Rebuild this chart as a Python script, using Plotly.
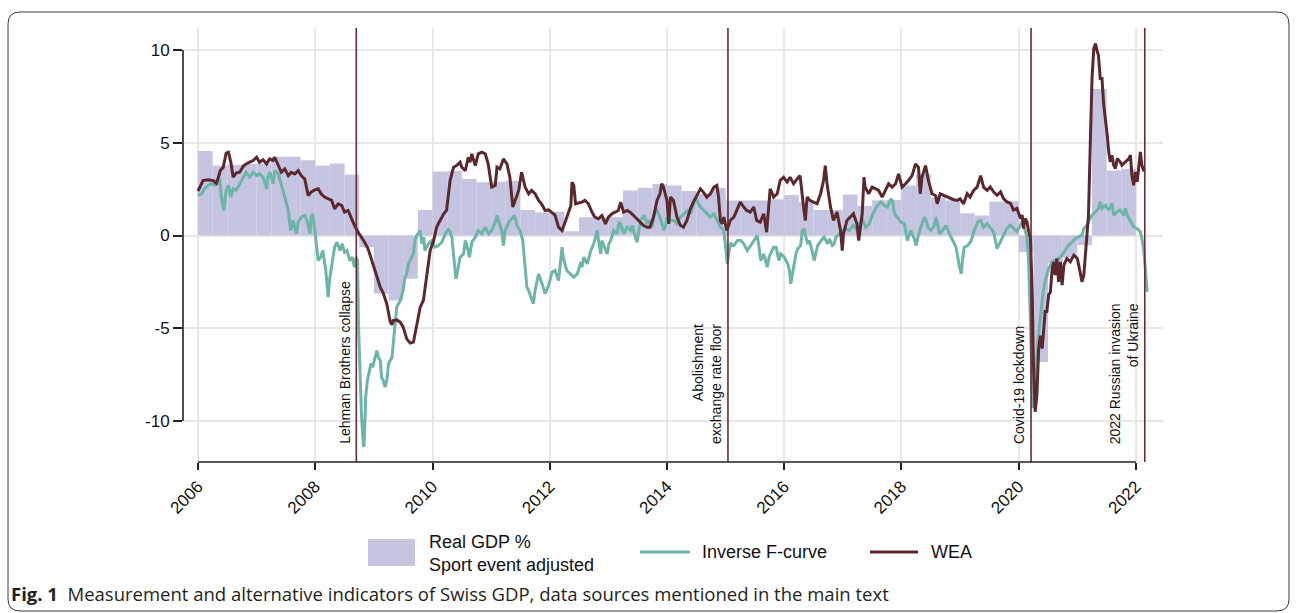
import plotly.graph_objects as go

# ---- Real GDP growth, sport-event adjusted (quarterly, % y/y) ----
gdp_years = list(range(2006, 2022))
gdp_values = [
    4.55, 3.78, 3.82, 3.85,   # 2006
    3.88, 4.25, 4.25, 4.05,   # 2007
    3.78, 3.88, 3.28, -0.63,  # 2008
    -3.14, -3.50, -2.33, 1.38,  # 2009
    3.45, 3.48, 3.05, 2.87,   # 2010
    2.90, 2.95, 1.38, 1.25,   # 2011
    1.28, 0.23, 0.99, 0.99,   # 2012
    0.99, 2.43, 2.57, 2.78,   # 2013
    2.70, 2.40, 2.25, 2.57,   # 2014
    1.89, 1.89, 1.89, 1.95,   # 2015
    2.18, 1.80, 1.38, 1.38,   # 2016
    2.21, 1.60, 1.90, 1.92,   # 2017
    2.70, 3.32, 2.05, 1.89,   # 2018
    1.20, 1.08, 1.83, 1.85,   # 2019
    -0.90, -6.82, -1.50, -1.20,  # 2020
    -0.52, 7.90, 3.50, 3.60,  # 2021
]
gdp_quarter_start = [y + q / 4 for y in gdp_years for q in range(4)]

# ---- Weekly economic activity index (WEA) ----
wea_t = [
    2006.00, 2006.085, 2006.17, 2006.26, 2006.31, 2006.34, 2006.38, 2006.43, 2006.48, 2006.52,
    2006.56, 2006.60, 2006.65, 2006.71, 2006.77, 2006.82, 2006.88, 2006.94, 2007.00, 2007.05,
    2007.11, 2007.17, 2007.22, 2007.28, 2007.31, 2007.37, 2007.42, 2007.48, 2007.54, 2007.59,
    2007.65, 2007.71, 2007.76, 2007.82, 2007.88, 2007.93, 2007.99, 2008.05, 2008.10, 2008.16,
    2008.22, 2008.28, 2008.33, 2008.39, 2008.45, 2008.50, 2008.56, 2008.62, 2008.67, 2008.73,
    2008.79, 2008.84, 2008.90, 2008.96, 2009.02, 2009.07, 2009.11, 2009.16, 2009.22, 2009.28,
    2009.31, 2009.33, 2009.39, 2009.45, 2009.50, 2009.56, 2009.62, 2009.675, 2009.73, 2009.79,
    2009.845, 2009.90, 2009.96, 2010.02, 2010.07, 2010.13, 2010.19, 2010.24, 2010.30, 2010.36,
    2010.41, 2010.47, 2010.50, 2010.56, 2010.61, 2010.64, 2010.67, 2010.73, 2010.78, 2010.84,
    2010.90, 2010.95, 2011.01, 2011.07, 2011.10, 2011.15, 2011.21, 2011.27, 2011.32, 2011.37,
    2011.41, 2011.47, 2011.52, 2011.58, 2011.64, 2011.69, 2011.75, 2011.81, 2011.86, 2011.92,
    2011.98, 2012.03, 2012.09, 2012.15, 2012.21, 2012.26, 2012.32, 2012.36, 2012.38, 2012.41,
    2012.44, 2012.49, 2012.55, 2012.60, 2012.66, 2012.72, 2012.77, 2012.83, 2012.89, 2012.95,
    2013.00, 2013.06, 2013.12, 2013.17, 2013.21, 2013.26, 2013.32, 2013.37, 2013.43, 2013.49,
    2013.54, 2013.60, 2013.66, 2013.71, 2013.77, 2013.83, 2013.88, 2013.91, 2013.94, 2014.00,
    2014.03, 2014.06, 2014.11, 2014.17, 2014.23, 2014.28, 2014.34, 2014.40, 2014.45, 2014.51,
    2014.57, 2014.62, 2014.68, 2014.74, 2014.80, 2014.85, 2014.88, 2014.91, 2014.94, 2014.97,
    2015.02, 2015.08, 2015.14, 2015.19, 2015.25, 2015.31, 2015.36, 2015.42, 2015.48, 2015.53,
    2015.59, 2015.65, 2015.70, 2015.76, 2015.82, 2015.88, 2015.93, 2015.99, 2016.05, 2016.10,
    2016.16, 2016.22, 2016.27, 2016.33, 2016.36, 2016.39, 2016.44, 2016.50, 2016.56, 2016.62,
    2016.67, 2016.70, 2016.73, 2016.79, 2016.84, 2016.90, 2016.96, 2016.99, 2017.01, 2017.07,
    2017.13, 2017.18, 2017.24, 2017.27, 2017.33, 2017.36, 2017.38, 2017.44, 2017.50, 2017.55,
    2017.61, 2017.67, 2017.73, 2017.78, 2017.84, 2017.90, 2017.95, 2018.01, 2018.07, 2018.12,
    2018.18, 2018.24, 2018.29, 2018.32, 2018.35, 2018.41, 2018.46, 2018.52, 2018.58, 2018.61,
    2018.66, 2018.72, 2018.78, 2018.84, 2018.89, 2018.95, 2019.00, 2019.06, 2019.12, 2019.17,
    2019.23, 2019.29, 2019.35, 2019.40, 2019.46, 2019.515, 2019.57, 2019.63, 2019.69, 2019.74,
    2019.80, 2019.86, 2019.91, 2019.97, 2020.03, 2020.06, 2020.08, 2020.11, 2020.14, 2020.17,
    2020.20, 2020.23, 2020.25, 2020.28, 2020.31, 2020.34, 2020.37, 2020.40, 2020.43, 2020.45,
    2020.48, 2020.51, 2020.54, 2020.57, 2020.60, 2020.62, 2020.65, 2020.68, 2020.71, 2020.74,
    2020.77, 2020.80, 2020.82, 2020.88, 2020.94, 2021.00, 2021.02, 2021.05, 2021.08, 2021.11,
    2021.14, 2021.17, 2021.19, 2021.22, 2021.25, 2021.28, 2021.31, 2021.34, 2021.36, 2021.39,
    2021.42, 2021.45, 2021.48, 2021.51, 2021.535, 2021.56, 2021.59, 2021.62, 2021.65, 2021.68,
    2021.705, 2021.73, 2021.76, 2021.79, 2021.85, 2021.88, 2021.905, 2021.93, 2021.96, 2021.99,
    2022.02, 2022.05, 2022.075, 2022.10, 2022.13, 2022.16,
]
wea_v = [
    2.39, 2.96, 3.00, 2.96, 2.82, 3.05, 3.50, 3.68, 4.44, 4.49,
    3.95, 3.14, 3.36, 3.41, 3.72, 3.86, 3.95, 4.04, 4.22, 3.95,
    4.08, 3.86, 4.13, 4.04, 4.22, 3.77, 3.41, 3.59, 3.23, 3.41,
    3.32, 3.50, 3.23, 3.05, 2.16, 2.34, 2.46, 2.52, 2.25, 2.07,
    1.98, 1.89, 1.44, 1.71, 1.62, 1.26, 1.35, 0.90, 0.54, 0.18,
    -0.09, -0.35, -0.70, -1.30, -2.00, -2.50, -2.80, -3.10, -3.68, -4.67,
    -4.80, -4.58, -4.55, -4.67, -4.94, -5.57, -5.80, -5.75, -4.76, -3.86,
    -3.50, -2.07, -0.81, -0.27, 0.45, 0.81, 1.17, 1.35, 2.96, 3.68,
    3.77, 3.95, 3.68, 3.50, 4.22, 3.95, 4.40, 3.77, 4.40, 4.49,
    4.40, 3.86, 2.61, 2.70, 3.68, 3.59, 4.13, 3.86, 3.14, 1.53,
    1.89, 2.43, 3.41, 2.61, 2.25, 2.43, 2.25, 1.89, 1.71, 1.35,
    1.38, 1.26, 1.10, 0.45, 0.27, 0.70, 1.20, 1.60, 2.88, 2.70,
    1.71, 1.75, 1.80, 1.89, 1.71, 1.26, 0.99, 0.90, 1.08, 0.63,
    0.99, 1.17, 1.26, 1.35, 1.80, 1.26, 1.35, 1.26, 1.08, 0.90,
    0.72, 0.54, 0.45, 0.45, 0.99, 1.89, 2.25, 2.79, 2.61, 1.89,
    0.63, 2.07, 1.89, 0.99, 0.54, 0.45, 0.81, 1.44, 1.80, 2.16,
    2.52, 2.34, 2.07, 2.25, 2.61, 2.70, 2.07, 0.81, 0.63, 0.99,
    0.27, 0.81, 0.99, 1.35, 1.80, 1.53, 1.35, 1.26, 1.53, 0.81,
    0.72, 1.17, 0.18, 2.52, 2.07, 2.25, 2.96, 3.14, 2.88, 3.14,
    2.79, 3.05, 3.23, 1.53, 0.81, 2.07, 1.89, 1.80, 1.71, 2.25,
    2.96, 3.77, 2.79, 1.53, 0.81, 1.26, 0.27, -0.81, 0.09, 0.81,
    0.99, 1.17, 0.63, -0.27, 1.17, 3.14, 2.61, 2.25, 2.61, 2.52,
    2.43, 2.07, 2.43, 2.79, 2.61, 2.79, 3.32, 2.61, 2.79, 2.96,
    3.23, 3.86, 3.68, 2.25, 3.14, 3.77, 2.96, 2.25, 2.16, 1.71,
    2.25, 2.16, 2.07, 1.98, 1.93, 1.89, 1.98, 1.71, 2.25, 2.07,
    2.43, 2.61, 3.23, 2.61, 2.43, 2.62, 2.35, 2.17, 2.35, 1.99,
    1.81, 1.73, 1.37, 1.46, 0.92, 1.10, 0.38, 0.92, 0.74, 0.20,
    -0.16, -3.20, -6.80, -9.50, -8.60, -6.10, -5.40, -6.10, -5.00, -4.10,
    -4.10, -3.20, -3.05, -1.78, -1.42, -2.14, -1.24, -2.50, -1.42, -2.68,
    -1.60, -1.42, -1.24, -1.42, -1.06, -1.24, -1.60, -2.14, -2.50, -2.14,
    -1.06, 0.38, 1.10, 4.87, 8.46, 10.08, 10.35, 9.90, 9.72, 8.46,
    8.46, 7.03, 6.31, 5.41, 4.51, 3.97, 4.33, 3.79, 3.61, 4.15,
    4.06, 3.97, 3.79, 3.88, 4.06, 4.15, 4.33, 3.25, 2.71, 3.43,
    2.89, 3.97, 4.51, 3.79, 3.52, 3.52,
]

# ---- Inverse F-curve ----
fcurve_t = [
    2006.00, 2006.06, 2006.11, 2006.17, 2006.23, 2006.28, 2006.34, 2006.37, 2006.40, 2006.44,
    2006.48, 2006.52, 2006.56, 2006.60, 2006.65, 2006.71, 2006.77, 2006.82, 2006.88, 2006.94,
    2007.00, 2007.05, 2007.11, 2007.17, 2007.19, 2007.23, 2007.28, 2007.31, 2007.37, 2007.42,
    2007.48, 2007.54, 2007.58, 2007.62, 2007.68, 2007.71, 2007.76, 2007.82, 2007.86, 2007.91,
    2007.93, 2007.96, 2008.01, 2008.05, 2008.09, 2008.13, 2008.18, 2008.22, 2008.25, 2008.29,
    2008.33, 2008.37, 2008.42, 2008.46, 2008.50, 2008.54, 2008.59, 2008.63, 2008.67, 2008.70,
    2008.72, 2008.74, 2008.76, 2008.79, 2008.82, 2008.83, 2008.85, 2008.86, 2008.89, 2008.92,
    2008.95, 2008.98, 2009.02, 2009.05, 2009.08, 2009.11, 2009.13, 2009.16, 2009.19, 2009.22,
    2009.25, 2009.31, 2009.33, 2009.36, 2009.39, 2009.45, 2009.50, 2009.53, 2009.56, 2009.59,
    2009.65, 2009.675, 2009.70, 2009.73, 2009.79, 2009.82, 2009.85, 2009.87, 2009.93, 2009.99,
    2010.04, 2010.10, 2010.16, 2010.22, 2010.27, 2010.30, 2010.33, 2010.37, 2010.40, 2010.44,
    2010.47, 2010.53, 2010.56, 2010.60, 2010.63, 2010.67, 2010.73, 2010.78, 2010.84, 2010.90,
    2010.96, 2011.01, 2011.07, 2011.10, 2011.13, 2011.18, 2011.21, 2011.24, 2011.30, 2011.35,
    2011.40, 2011.44, 2011.495, 2011.54, 2011.58, 2011.61, 2011.64, 2011.68, 2011.72, 2011.75,
    2011.81, 2011.87, 2011.92, 2011.98, 2012.04, 2012.09, 2012.15, 2012.21, 2012.23, 2012.29,
    2012.35, 2012.41, 2012.47, 2012.53, 2012.55, 2012.58, 2012.64, 2012.70, 2012.75, 2012.78,
    2012.81, 2012.84, 2012.87, 2012.89, 2012.92, 2012.98, 2013.01, 2013.04, 2013.09, 2013.15,
    2013.18, 2013.21, 2013.26, 2013.32, 2013.38, 2013.41, 2013.46, 2013.49, 2013.52, 2013.55,
    2013.61, 2013.66, 2013.69, 2013.75, 2013.78, 2013.83, 2013.89, 2013.95, 2013.98, 2014.00,
    2014.06, 2014.12, 2014.17, 2014.23, 2014.29, 2014.35, 2014.40, 2014.46, 2014.49, 2014.52,
    2014.57, 2014.63, 2014.69, 2014.74, 2014.80, 2014.86, 2014.91, 2014.97, 2015.03, 2015.06,
    2015.09, 2015.14, 2015.20, 2015.26, 2015.31, 2015.37, 2015.43, 2015.48, 2015.54, 2015.57,
    2015.60, 2015.65, 2015.71, 2015.74, 2015.82, 2015.86, 2015.89, 2015.91, 2015.94, 2016.00,
    2016.06, 2016.09, 2016.11, 2016.14, 2016.17, 2016.20, 2016.23, 2016.28, 2016.31, 2016.34,
    2016.37, 2016.40, 2016.43, 2016.455, 2016.48, 2016.51, 2016.54, 2016.57, 2016.63, 2016.68,
    2016.74, 2016.77, 2016.82, 2016.85, 2016.88, 2016.94, 2017.00, 2017.05, 2017.11, 2017.17,
    2017.22, 2017.28, 2017.34, 2017.39, 2017.45, 2017.51, 2017.54, 2017.59, 2017.65, 2017.71,
    2017.76, 2017.82, 2017.85, 2017.88, 2017.93, 2017.99, 2018.05, 2018.10, 2018.16, 2018.22,
    2018.25, 2018.28, 2018.33, 2018.39, 2018.42, 2018.45, 2018.50, 2018.56, 2018.59, 2018.65,
    2018.70, 2018.76, 2018.82, 2018.87, 2018.93, 2018.99, 2019.02, 2019.04, 2019.07, 2019.13,
    2019.19, 2019.24, 2019.30, 2019.35, 2019.40, 2019.46, 2019.515, 2019.57, 2019.63, 2019.69,
    2019.74, 2019.80, 2019.86, 2019.91, 2019.97, 2020.03, 2020.06, 2020.08, 2020.11, 2020.14,
    2020.17, 2020.20, 2020.23, 2020.24, 2020.27, 2020.30, 2020.33, 2020.37, 2020.41, 2020.45,
    2020.51, 2020.57, 2020.62, 2020.68, 2020.74, 2020.80, 2020.85, 2020.91, 2020.97, 2021.02,
    2021.08, 2021.11, 2021.165, 2021.19, 2021.25, 2021.31, 2021.36, 2021.39, 2021.42, 2021.48,
    2021.535, 2021.59, 2021.62, 2021.68, 2021.73, 2021.79, 2021.82, 2021.85, 2021.905, 2021.96,
    2022.02, 2022.075, 2022.10, 2022.13, 2022.16, 2022.19,
]
fcurve_v = [
    2.16, 2.25, 2.52, 2.70, 2.79, 2.70, 2.79, 3.05, 2.07, 1.35,
    2.43, 2.70, 2.07, 2.52, 2.43, 2.79, 3.14, 3.41, 3.14, 3.41,
    3.23, 3.32, 3.14, 2.52, 3.14, 3.41, 2.79, 3.50, 3.32, 2.79,
    2.07, 1.35, 0.27, 0.81, 0.09, 0.72, 0.99, 1.08, 0.81, 0.09,
    0.99, 1.17, -0.27, -1.35, -1.17, -0.81, -1.89, -3.32, -2.25, -1.35,
    -0.63, -0.36, -0.81, -0.45, -0.90, -0.81, -1.35, -1.17, -1.71, -1.17,
    -1.35, -5.10, -7.30, -9.80, -11.20, -11.40, -9.80, -8.70, -7.80, -7.30,
    -6.90, -7.10, -6.65, -6.20, -6.60, -6.74, -7.64, -7.82, -8.18, -7.82,
    -6.90, -6.56, -5.84, -4.76, -3.86, -3.50, -2.96, -2.25, -2.07, -1.53,
    -1.17, -0.99, -0.27, 0.00, 0.27, -0.45, -0.09, -0.81, -0.45, -0.27,
    -0.63, -0.54, -0.36, 0.09, 0.36, 0.18, -0.09, -1.53, -2.34, -1.71,
    -1.17, -0.99, -0.27, -0.72, -1.17, -0.36, -0.09, 0.27, 0.09, 0.45,
    0.09, 0.27, 0.72, 1.08, 0.72, 0.27, -0.54, 0.27, 0.72, 0.90,
    1.08, 0.54, 0.27, -0.27, -1.89, -2.79, -2.96, -3.32, -3.68, -2.96,
    -2.07, -2.61, -3.14, -2.70, -1.98, -1.89, -2.43, -0.63, -1.17, -1.89,
    -2.07, -2.25, -2.07, -1.44, -1.71, -1.17, -1.53, -0.81, -0.45, -0.09,
    0.27, -0.45, -0.99, -0.27, -0.54, -0.99, -0.45, -0.27, 0.27, 0.09,
    0.72, 0.63, 0.09, 0.45, 0.27, 0.54, -0.09, -0.36, 0.27, 0.81,
    1.08, 0.63, 0.81, 0.45, 1.17, 1.35, 0.90, 0.27, 0.63, 0.99,
    0.81, 0.81, 0.63, 0.99, 1.17, 1.35, 1.17, 1.80, 2.07, 1.80,
    1.53, 1.35, 1.17, 0.99, 1.17, 0.81, 0.45, 0.27, -1.53, -0.81,
    -0.45, -0.54, -0.27, -0.27, -0.45, -0.81, -0.54, -0.27, 0.00, -0.63,
    -1.35, -0.99, -1.71, -1.17, -0.63, -0.63, -1.08, -1.35, -0.99, -1.17,
    -1.53, -1.89, -2.61, -2.07, -1.53, -0.99, -0.72, -0.54, 0.27, 0.36,
    -0.09, -0.45, -0.27, -0.54, -0.90, -1.35, -0.99, -0.54, -0.27, -0.09,
    -0.45, -0.18, -0.54, -0.45, -0.09, 0.09, 0.27, 0.36, 0.27, 0.54,
    0.36, 0.63, 0.81, 0.45, 0.63, 1.17, 1.35, 1.62, 1.80, 1.62,
    1.53, 1.98, 1.80, 1.17, 0.99, 0.72, 0.63, -0.27, 0.27, -0.18,
    -0.54, -0.09, 0.45, 0.99, 0.81, 0.45, 0.27, 0.54, 0.99, 0.09,
    0.27, 0.54, 0.09, -0.27, -0.63, -1.71, -2.07, -1.35, -0.63, -0.54,
    -0.27, 0.27, 0.72, 0.81, 0.45, 0.63, 0.38, 0.20, -0.70, -0.34,
    0.02, 0.38, 0.56, 0.38, 0.20, 0.56, 0.74, 0.56, 0.20, -0.07,
    -1.42, -5.00, -8.60, -9.30, -8.20, -6.80, -5.55, -4.47, -3.20, -2.50,
    -1.78, -1.42, -1.33, -1.24, -1.06, -0.79, -0.52, -0.34, -0.16, -0.07,
    0.02, 0.38, 0.56, 0.74, 1.10, 1.28, 1.46, 1.81, 1.46, 1.63,
    1.37, 1.73, 1.10, 1.28, 1.37, 1.10, 1.46, 1.10, 0.74, 0.47,
    0.38, 0.20, -0.16, -0.70, -1.78, -3.04,
]

# ---- Events marked with vertical lines ----
event_dates = [2008.70, 2015.04, 2020.21, 2022.15]
event_labels = [
    "Lehman Brothers collapse",
    "Abolishment<br>exchange rate floor",
    "Covid-19 lockdown",
    "2022 Russian invasion<br>of Ukraine",
]

x_ticks = list(range(2006, 2023, 2))
y_ticks = [-10, -5, 0, 5, 10]

# ---- Styling ----
W, H = 1296, 613
M_L, M_R, M_T, M_B = 183, 133, 28, 151
PW, PH = W - M_L - M_R, H - M_T - M_B

GDP_FILL = "#c5c5e1"
TEAL = "#6cb5a7"
MAROON = "#5b292d"
EVENT_LINE = "#6a2c31"
GRID = "#e7e7e7"
AXIS = "#222222"
FONT = "Liberation Sans, Arial, sans-serif"


def px(x):
    """horizontal page pixel -> paper fraction"""
    return (x - M_L) / PW


def py(y):
    """vertical page pixel (from top) -> paper fraction"""
    return (H - M_B - y) / PH


fig = go.Figure()

fig.add_trace(go.Bar(
    x=gdp_quarter_start, y=gdp_values, width=0.25, offset=0,
    marker=dict(color=GDP_FILL, line=dict(width=0)),
    showlegend=False, hoverinfo="skip",
))
fig.add_trace(go.Scatter(
    x=fcurve_t, y=fcurve_v, mode="lines",
    line=dict(color=TEAL, width=3), showlegend=False,
))
fig.add_trace(go.Scatter(
    x=wea_t, y=wea_v, mode="lines",
    line=dict(color=MAROON, width=3), showlegend=False,
))

shapes = []
annotations = []

# event markers with rotated labels
for d, lab in zip(event_dates, event_labels):
    shapes.append(dict(type="line", xref="x", yref="paper", x0=d, x1=d, y0=0, y1=1,
                       line=dict(color=EVENT_LINE, width=1.6), layer="above"))
    annotations.append(dict(
        x=d, y=py(446), xref="x", yref="paper", text=lab, showarrow=False,
        textangle=-90, xanchor="right", yanchor="bottom", align="right",
        xshift=-2, font=dict(family=FONT, size=14, color="#111111"),
    ))

# Stata-style axis lines spanning the tick range only
shapes.append(dict(type="line", xref="paper", yref="y", x0=0, x1=0, y0=-10, y1=10,
                   line=dict(color=AXIS, width=1.6), layer="above"))
shapes.append(dict(type="line", xref="x", yref="paper", x0=2006, x1=2022, y0=0, y1=0,
                   line=dict(color=AXIS, width=1.6), layer="above"))

# legend
shapes.append(dict(type="rect", xref="paper", yref="paper",
                   x0=px(368), x1=px(415), y0=py(566), y1=py(539),
                   fillcolor=GDP_FILL, line=dict(width=0)))
shapes.append(dict(type="line", xref="paper", yref="paper",
                   x0=px(640), x1=px(690), y0=py(552), y1=py(552),
                   line=dict(color=TEAL, width=3)))
shapes.append(dict(type="line", xref="paper", yref="paper",
                   x0=px(870), x1=px(918), y0=py(552), y1=py(552),
                   line=dict(color=MAROON, width=3)))
legend_font = dict(family=FONT, size=18, color="#111111")
annotations += [
    dict(x=px(427), y=py(553.5), xref="paper", yref="paper", xanchor="left", yanchor="middle",
         text="Real GDP %<br>Sport event adjusted", align="left", showarrow=False,
         font=legend_font),
    dict(x=px(700), y=py(552), xref="paper", yref="paper", xanchor="left", yanchor="middle",
         text="Inverse F-curve", showarrow=False, font=legend_font),
    dict(x=px(929), y=py(552), xref="paper", yref="paper", xanchor="left", yanchor="middle",
         text="WEA", showarrow=False, font=legend_font),
]

# caption
annotations.append(dict(
    x=px(9), y=py(593), xref="paper", yref="paper", xanchor="left", yanchor="middle",
    text="<b>Fig. 1</b>  Measurement and alternative indicators of Swiss GDP, data sources mentioned in the main text",
    showarrow=False, font=dict(family="Open Sans, sans-serif", size=18.5, color="#231f20"),
))

# rounded frame around the figure
r = 12
x0, x1, y0, y1 = 8, 1289, 12, 611
frame = (f"M {px(x0)},{py(y0 + r)} L {px(x0)},{py(y1 - r)} Q {px(x0)},{py(y1)} {px(x0 + r)},{py(y1)} "
         f"L {px(x1 - r)},{py(y1)} Q {px(x1)},{py(y1)} {px(x1)},{py(y1 - r)} "
         f"L {px(x1)},{py(y0 + r)} Q {px(x1)},{py(y0)} {px(x1 - r)},{py(y0)} "
         f"L {px(x0 + r)},{py(y0)} Q {px(x0)},{py(y0)} {px(x0)},{py(y0 + r)} Z")
shapes.append(dict(type="path", xref="paper", yref="paper", path=frame,
                   line=dict(color="#3a3a3a", width=1), fillcolor="rgba(0,0,0,0)"))

fig.update_layout(
    width=W, height=H,
    margin=dict(l=M_L, r=M_R, t=M_T, b=M_B, autoexpand=False),
    paper_bgcolor="white", plot_bgcolor="white",
    showlegend=False,
    shapes=shapes, annotations=annotations,
    font=dict(family=FONT, color="#111111"),
)
fig.update_xaxes(
    range=[2005.744, 2022.461], tickvals=x_ticks, ticktext=[str(v) for v in x_ticks],
    tickangle=-45, ticks="outside", ticklen=7, tickwidth=1.6, tickcolor=AXIS,
    showgrid=True, gridcolor=GRID, gridwidth=1.5, zeroline=False, showline=False,
    tickfont=dict(family=FONT, size=17, color="#111111"),
)
fig.update_yaxes(
    range=[-12.21, 11.186], tickvals=y_ticks, ticktext=[str(v) for v in y_ticks],
    ticks="outside", ticklen=9, tickwidth=1.6, tickcolor=AXIS,
    showgrid=True, gridcolor=GRID, gridwidth=1.5, zeroline=False, showline=False,
    tickfont=dict(family=FONT, size=17, color="#111111"),
)

fig.write_html("out.html")
